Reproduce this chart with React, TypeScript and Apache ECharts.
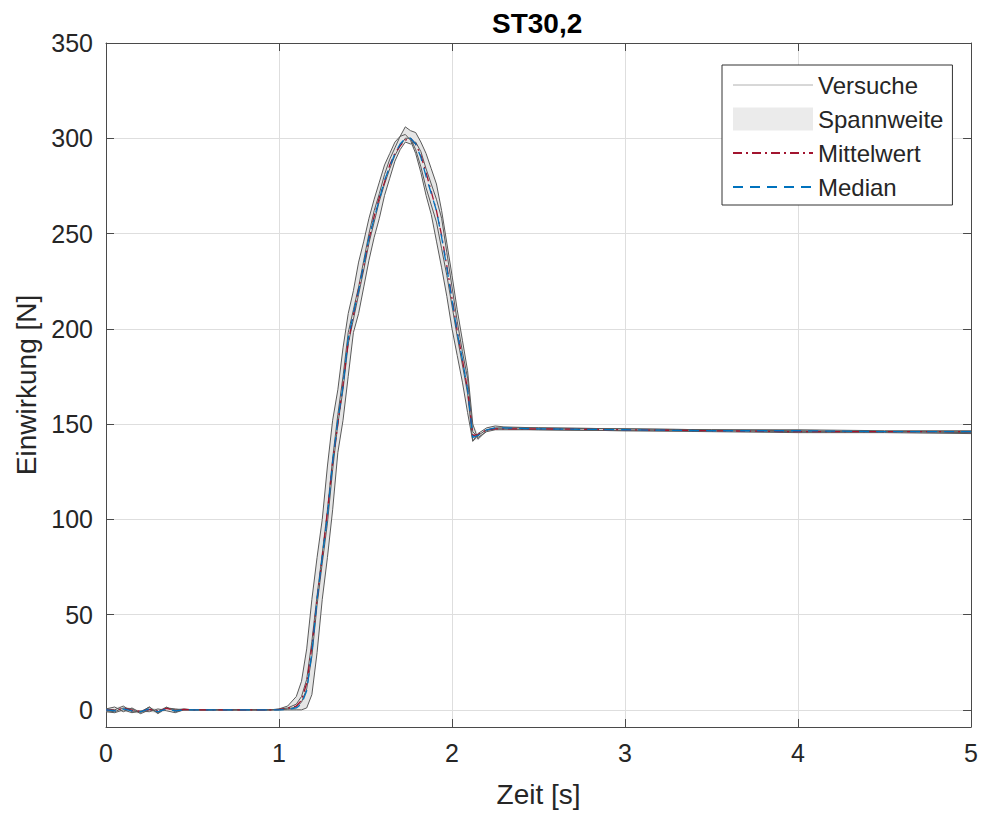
import React, { useEffect, useRef } from "react";
import * as echarts from "echarts";

// time points [s]
const TIME = [0, 0.05, 0.1, 0.15, 0.2, 0.25, 0.3, 0.35, 0.4, 0.45,
  0.5, 0.6, 0.8, 0.95, 1.0, 1.05, 1.1, 1.13, 1.16, 1.19,
  1.22, 1.25, 1.28, 1.31, 1.34, 1.37, 1.40, 1.43, 1.46, 1.49,
  1.52, 1.55, 1.58, 1.61, 1.64, 1.67, 1.70, 1.73, 1.76, 1.79,
  1.82, 1.85, 1.88, 1.91, 1.94, 1.97, 2.00, 2.03, 2.06, 2.09,
  2.12, 2.15, 2.2, 2.25, 2.3, 2.5, 3.0, 3.5, 4.0, 4.5,
  5.0];

// individual trials (Versuche) [N]
const TRIAL_1 = [0.5, 1.5, -1, 1, -1.5, 1.5, -2, 1, 0.5, 0,
  0, 0, 0, 0, 0.5, 2, 7, 15, 32, 58,
  80, 100, 128, 152, 168, 190, 208, 220, 235, 246,
  258, 268, 277, 286, 292, 298, 301, 302, 299, 292,
  282, 270, 260, 246, 232, 217, 200, 186, 172, 156,
  141, 145, 148, 149, 148.5, 148, 147.5, 147, 147, 146.5,
  146.5];
const TRIAL_2 = [-1, -1.5, 0, -1.5, -0.5, -1, 0.5, -0.5, -1.5, 0,
  0, 0, 0, 0, 0, 0, 0, 0, 1, 8,
  30, 58, 80, 105, 135, 152, 175, 198, 208, 222,
  236, 248, 258, 270, 279, 288, 294, 298, 297, 298,
  293, 284, 276, 268, 258, 240, 222, 204, 188, 174,
  146, 143, 146, 147, 147, 147, 146.5, 146, 145.5, 145.5,
  145];
const TRIAL_3 = [0.5, 0, 2, -1, -1, 1.5, -1.5, 1, 0, 0.5,
  0, 0, 0, 0, 0.3, 1, 3, 7, 16, 36,
  60, 82, 105, 132, 155, 175, 198, 210, 222, 236,
  250, 262, 271, 281, 289, 295, 301, 306, 304, 303,
  298, 292, 284, 276, 262, 245, 228, 210, 194, 178,
  150, 142, 146.5, 148, 148, 148, 147.5, 147, 146.5, 146,
  146];
const TRIAL_4 = [-0.5, -1, 1, 0.5, -2, 0, -1, 1.5, -1, 0,
  0, 0, 0, 0, 0, 0.5, 1.5, 4, 11, 28,
  55, 77, 98, 126, 150, 168, 192, 205, 218, 231,
  245, 256, 267, 276, 284, 291, 296, 300, 300, 294,
  285, 274, 265, 256, 242, 228, 212, 196, 181, 166,
  141, 144, 147, 147.5, 147.5, 147, 146.5, 146.5, 146, 146,
  145.5];

const MEAN = [0, -0.3, 0.8, -0.2, -0.8, 0.3, -0.6, 0.8, -0.3, 0.2,
  0, 0, 0, 0, 0.2, 0.8, 2, 5, 14, 33,
  58, 80, 104, 130, 150, 171, 193, 207, 221, 233,
  247, 259, 269, 277, 286, 292, 296, 299, 300, 297,
  291, 282, 272, 262, 249, 233, 216, 199, 184, 168,
  144, 144.5, 147, 147.5, 147.5, 147.5, 147, 146.5, 146, 146,
  146];

const MEDIAN = [0, -0.5, 0.5, -0.5, -1, 0.5, -1, 0.5, -0.5, 0,
  0, 0, 0, 0, 0, 0.3, 1, 3, 10, 30,
  58, 80, 102, 130, 152, 170, 195, 208, 220, 234,
  248, 258, 268, 278, 285, 292, 297, 300, 300, 297,
  290, 280, 271, 262, 248, 232, 215, 198, 184, 168,
  143, 144, 147, 148, 148, 147.5, 147, 146.5, 146.5, 146,
  146];

const TRIALS = [TRIAL_1, TRIAL_2, TRIAL_3, TRIAL_4];
const Y_TICKS = [0, 50, 100, 150, 200, 250, 300, 350];
const X_TICKS = [0, 1, 2, 3, 4, 5];

const FONT = "'Liberation Sans', Arial, Helvetica, sans-serif";
const TXT = "#262626";
const AXIS = "#4a4a4a";
const GRIDC = "#dedede";

export default function App() {
  const ref = useRef<HTMLDivElement>(null);
  useEffect(() => {
    if (!ref.current) return;
    const chart = echarts.init(ref.current, undefined, { renderer: "svg" });
    const pair = (vals: number[]) => TIME.map((t, i) => [t, vals[i]]);
    const upper = TIME.map((t, i) => [t, Math.max(...TRIALS.map((s) => s[i]))]);
    const lower = TIME.map((t, i) => [t, Math.min(...TRIALS.map((s) => s[i]))]);

    const trialSeries = TRIALS.map((vals) => ({
      type: "line",
      name: "Versuche",
      data: pair(vals),
      symbol: "none",
      lineStyle: { color: "#5a5a5a", width: 1 },
      itemStyle: { color: "#5a5a5a" },
      z: 3,
    }));

    const option: any = {
      animation: false,
      textStyle: { fontFamily: FONT },
      title: {
        text: "ST30,2",
        left: 492,
        top: 9,
        padding: 0,
        textStyle: { fontSize: 28, fontWeight: "bold", color: "#000", fontFamily: FONT },
      },
      grid: { left: 106, top: 43, right: 9, bottom: 84.5, containLabel: false },
      legend: {
        orient: "vertical",
        left: 722,
        top: 65,
        padding: [8, 9, 6, 10],
        itemWidth: 80,
        itemHeight: 23,
        itemGap: 10,
        borderColor: "#333",
        borderWidth: 1,
        backgroundColor: "#fff",
        textStyle: { fontSize: 24, color: TXT, fontFamily: FONT },
        data: [
          { name: "Versuche", lineStyle: { color: "#b0b0b0", width: 1 }, itemStyle: { opacity: 0 } },
          { name: "Spannweite", icon: "rect", itemStyle: { color: "#ebebeb" } },
          { name: "Mittelwert", itemStyle: { opacity: 0 } },
          { name: "Median", itemStyle: { opacity: 0 } },
        ],
      },
      xAxis: [
        {
          type: "value",
          min: 0,
          max: 5,
          interval: 1,
          name: "Zeit [s]",
          nameLocation: "middle",
          nameGap: 53,
          nameTextStyle: { fontSize: 28, color: TXT, fontFamily: FONT },
          axisLine: { show: true, onZero: false, lineStyle: { color: AXIS, width: 1 } },
          axisTick: { show: true, inside: true, length: 8, lineStyle: { color: AXIS } },
          axisLabel: { fontSize: 25, color: TXT, margin: 13, fontFamily: FONT, customValues: X_TICKS },
          splitLine: { show: true, lineStyle: { color: GRIDC, width: 1 } },
        },
        {
          type: "value",
          position: "top",
          min: 0,
          max: 5,
          interval: 1,
          axisLine: { show: true, onZero: false, lineStyle: { color: AXIS, width: 1 } },
          axisTick: { show: true, inside: true, length: 8, lineStyle: { color: AXIS } },
          axisLabel: { show: false },
          splitLine: { show: false },
        },
      ],
      yAxis: [
        {
          type: "value",
          min: -9,
          max: 350,
          name: "Einwirkung [N]",
          nameLocation: "middle",
          nameGap: 65,
          nameTextStyle: { fontSize: 28, color: TXT, fontFamily: FONT },
          axisLine: { show: true, onZero: false, lineStyle: { color: AXIS, width: 1 } },
          axisTick: { show: true, inside: true, length: 8, lineStyle: { color: AXIS }, customValues: Y_TICKS },
          axisLabel: { fontSize: 25, color: TXT, margin: 13, fontFamily: FONT, customValues: Y_TICKS },
          splitLine: { show: true, lineStyle: { color: GRIDC, width: 1 }, customValues: Y_TICKS },
        },
        {
          type: "value",
          position: "right",
          min: -9,
          max: 350,
          axisLine: { show: true, onZero: false, lineStyle: { color: AXIS, width: 1 } },
          axisTick: { show: true, inside: true, length: 8, lineStyle: { color: AXIS }, customValues: Y_TICKS },
          axisLabel: { show: false, customValues: Y_TICKS },
          splitLine: { show: false },
        },
      ],
      series: [
        {
          type: "custom",
          name: "Spannweite",
          xAxisIndex: 0,
          yAxisIndex: 0,
          data: [[0, 0]],
          itemStyle: { color: "#e6e6e6" },
          silent: true,
          z: 1,
          renderItem: (_params: any, api: any) => {
            const pts = upper.map((p) => api.coord(p)).concat(
              lower.slice().reverse().map((p) => api.coord(p))
            );
            return { type: "polygon", shape: { points: pts }, style: { fill: "#e6e6e6", stroke: "none" } };
          },
        },
        ...trialSeries,
        {
          type: "line",
          name: "Mittelwert",
          data: pair(MEAN),
          symbol: "none",
          lineStyle: { color: "#A2142F", width: 1.3, type: [9, 4, 2, 4] },
          itemStyle: { color: "#A2142F" },
          z: 4,
        },
        {
          type: "line",
          name: "Median",
          data: pair(MEDIAN),
          symbol: "none",
          lineStyle: { color: "#0072BD", width: 1.3, type: [10, 7] },
          itemStyle: { color: "#0072BD" },
          z: 5,
        },
      ],
    };
    chart.setOption(option);
    return () => chart.dispose();
  }, []);
  return (
    <div
      ref={ref}
      style={{ position: "fixed", left: 0, top: 0, width: 981, height: 813, background: "#fff" }}
    />
  );
}
